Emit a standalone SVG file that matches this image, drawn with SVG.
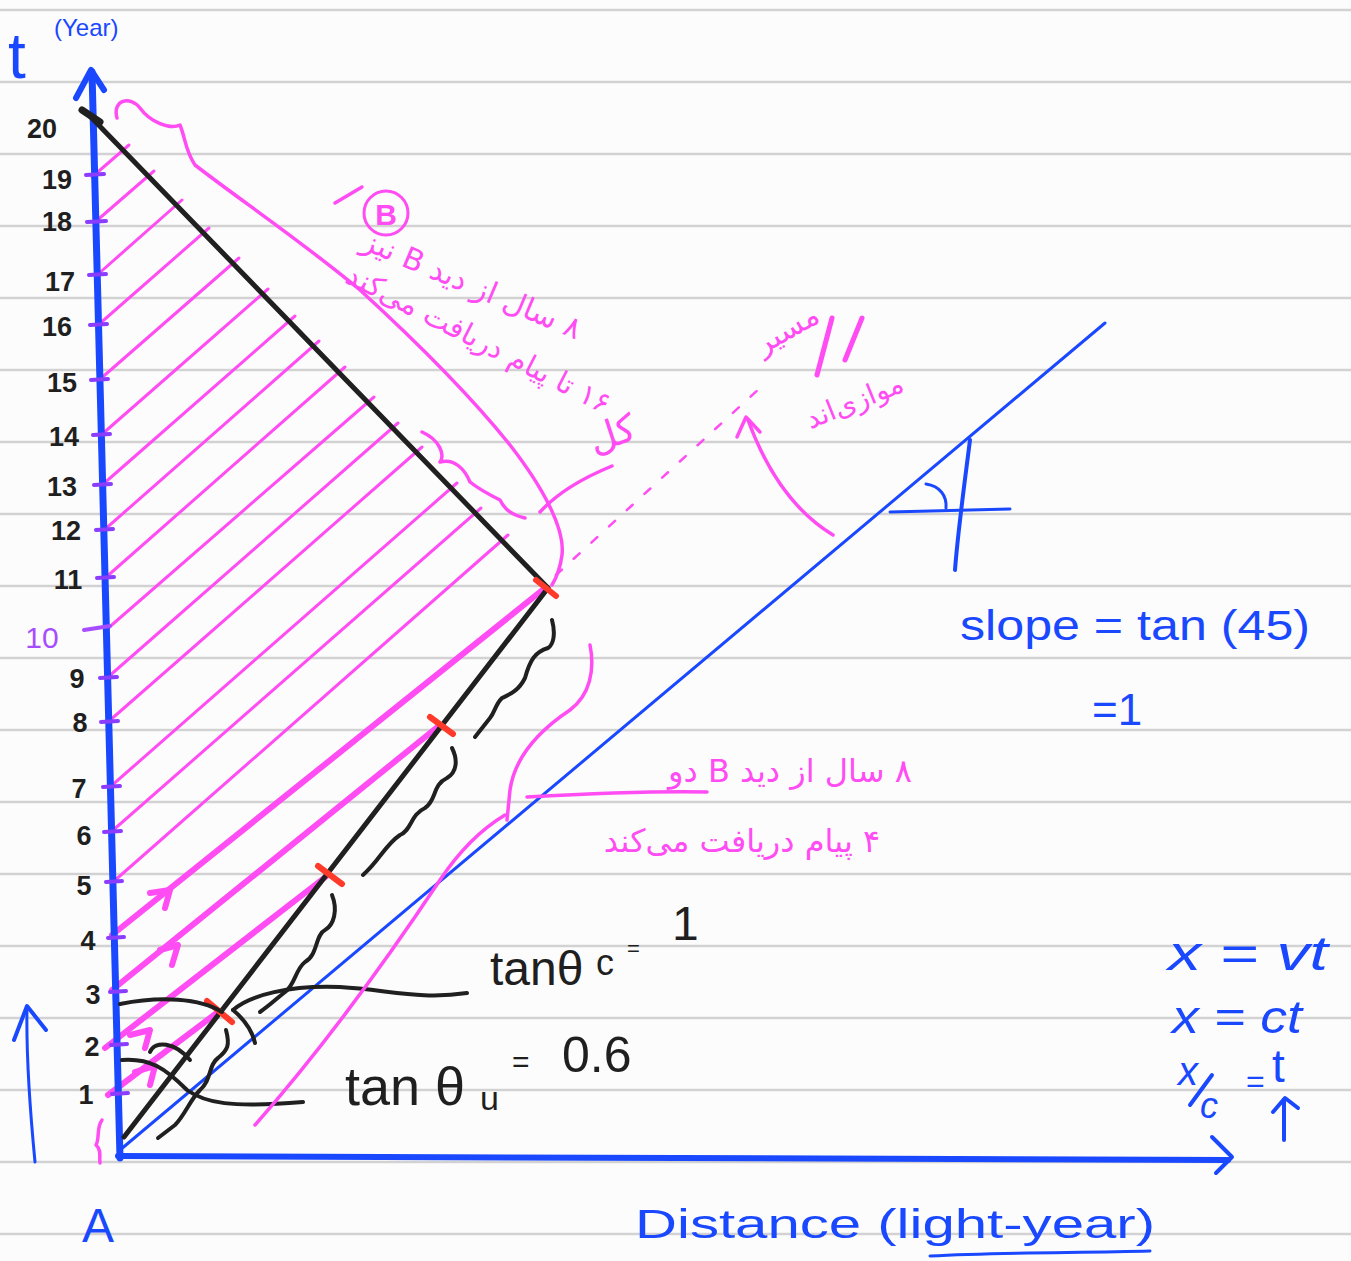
<svg xmlns="http://www.w3.org/2000/svg" width="1351" height="1261" viewBox="0 0 1351 1261">
<defs>
<style>
.rule{stroke:#d2d2d2;stroke-width:2.5}
.s{fill:none;stroke-linecap:round;stroke-linejoin:round}
.b{stroke:#1a48ff}
.p{stroke:#ff4cf3}
.k{stroke:#202020}
.r{stroke:#ff3a2a}
.tick{stroke:#8a3dff;stroke-width:4;stroke-linecap:round}
.num{font-family:"Liberation Sans",Arial,sans-serif;font-weight:bold;font-size:27px;fill:#1f1f1f;text-anchor:middle}
.bt{font-family:"Liberation Sans",Arial,sans-serif;fill:#1a48ff}
.kt{font-family:"Liberation Sans",Arial,sans-serif;fill:#1f1f1f}
.fa{font-family:"DejaVu Sans","Noto Sans",sans-serif;fill:#ff4cf3;text-anchor:middle;direction:rtl;unicode-bidi:embed}
</style>
</defs>
<rect width="1351" height="1261" fill="#fcfcfd"/>
<g id="paper">
<line class="rule" x1="0" y1="10" x2="1351" y2="10"/>
<line class="rule" x1="0" y1="82" x2="1351" y2="82"/>
<line class="rule" x1="0" y1="154" x2="1351" y2="154"/>
<line class="rule" x1="0" y1="226" x2="1351" y2="226"/>
<line class="rule" x1="0" y1="298" x2="1351" y2="298"/>
<line class="rule" x1="0" y1="370" x2="1351" y2="370"/>
<line class="rule" x1="0" y1="442" x2="1351" y2="442"/>
<line class="rule" x1="0" y1="514" x2="1351" y2="514"/>
<line class="rule" x1="0" y1="586" x2="1351" y2="586"/>
<line class="rule" x1="0" y1="658" x2="1351" y2="658"/>
<line class="rule" x1="0" y1="730" x2="1351" y2="730"/>
<line class="rule" x1="0" y1="802" x2="1351" y2="802"/>
<line class="rule" x1="0" y1="874" x2="1351" y2="874"/>
<line class="rule" x1="0" y1="946" x2="1351" y2="946"/>
<line class="rule" x1="0" y1="1018" x2="1351" y2="1018"/>
<line class="rule" x1="0" y1="1090" x2="1351" y2="1090"/>
<line class="rule" x1="0" y1="1162" x2="1351" y2="1162"/>
<line class="rule" x1="0" y1="1234" x2="1351" y2="1234"/>
</g>

<g id="connectors">
<g class="s p" stroke-width="3">
<line x1="92" y1="177" x2="129" y2="145"/>
<line x1="94" y1="223" x2="154" y2="171"/>
<line x1="96" y1="276" x2="182" y2="200"/>
<line x1="97" y1="326" x2="209" y2="228"/>
<line x1="98" y1="381" x2="239" y2="258"/>
<line x1="100" y1="436" x2="268" y2="289"/>
<line x1="101" y1="486" x2="295" y2="316"/>
<line x1="103" y1="531" x2="319" y2="341"/>
<line x1="104" y1="579" x2="345" y2="367"/>
<line x1="106" y1="630" x2="374" y2="397"/>
<line x1="107" y1="678" x2="398" y2="423"/>
<line x1="108" y1="722" x2="422" y2="447"/>
<line x1="110" y1="787" x2="457" y2="483"/>
<line x1="111" y1="832" x2="481" y2="508"/>
<line x1="113" y1="882" x2="508" y2="535"/>
</g>
<g class="s p" stroke-width="6">
<line x1="112" y1="935" x2="545" y2="588"/>
<line x1="112" y1="990" x2="440" y2="725"/>
<line x1="105" y1="1048" x2="328" y2="875"/>
<line x1="108" y1="1095" x2="218" y2="1012"/>
<polyline points="150,893 170,890 165,908"/>
<polyline points="160,950 178,945 172,965"/>
<polyline points="130,1035 150,1030 145,1048"/>
<polyline points="135,1072 155,1066 150,1085"/>
</g>
<g id="axes" class="s b">
<line x1="92" y1="72" x2="120" y2="1158" stroke-width="7"/>
<polyline points="76,98 91,70 104,90" stroke-width="6"/>
<line x1="118" y1="1156" x2="1228" y2="1160" stroke-width="6"/>
<polyline points="1212,1137 1232,1157 1216,1173" stroke-width="4"/>
<line x1="120" y1="1150" x2="1105" y2="323" stroke-width="3"/>
<path d="M970,440 C 965,480 958,530 955,570" stroke-width="4"/>
<line x1="890" y1="512" x2="1010" y2="509" stroke-width="3"/>
<path d="M926,484 C 940,486 947,496 946,508" stroke-width="3"/>
<path d="M35,1162 C 30,1110 26,1060 27,1008" stroke-width="3"/>
<polyline points="14,1040 27,1006 46,1030" stroke-width="4"/>
<line x1="1284" y1="1140" x2="1284" y2="1100" stroke-width="4"/>
<polyline points="1273,1112 1285,1098 1298,1108" stroke-width="4"/>
</g>
<g class="s k" stroke-width="5">
<line x1="86" y1="112" x2="548" y2="588"/>
<line x1="548" y1="588" x2="124" y2="1137"/>
<line x1="82" y1="110" x2="100" y2="122" stroke-width="7"/>
</g>
<g>
<line class="tick" x1="86" y1="175" x2="104" y2="174"/>
<line class="tick" x1="87" y1="222" x2="106" y2="221"/>
<line class="tick" x1="89" y1="275" x2="106" y2="274"/>
<line class="tick" x1="90" y1="325" x2="107" y2="324"/>
<line class="tick" x1="91" y1="380" x2="108" y2="379"/>
<line class="tick" x1="93" y1="435" x2="110" y2="434"/>
<line class="tick" x1="94" y1="485" x2="111" y2="484"/>
<line class="tick" x1="96" y1="530" x2="113" y2="529"/>
<line class="tick" x1="97" y1="578" x2="114" y2="577"/>
<line x1="84" y1="630" x2="110" y2="626" stroke="#a84cff" stroke-width="4" stroke-linecap="round"/>
<line class="tick" x1="100" y1="678" x2="117" y2="677"/>
<line class="tick" x1="101" y1="722" x2="118" y2="721"/>
<line class="tick" x1="103" y1="787" x2="120" y2="786"/>
<line class="tick" x1="104" y1="832" x2="121" y2="831"/>
<line class="tick" x1="106" y1="882" x2="122" y2="881"/>
<line class="tick" x1="108" y1="938" x2="124" y2="937"/>
<line class="tick" x1="110" y1="992" x2="126" y2="991"/>
<line class="tick" x1="111" y1="1045" x2="127" y2="1044"/>
<line class="tick" x1="112" y1="1094" x2="128" y2="1093"/>
</g>
<g class="s r" stroke-width="6">
<line x1="536" y1="580" x2="556" y2="596"/>
<line x1="430" y1="717" x2="453" y2="734"/>
<line x1="318" y1="866" x2="342" y2="884"/>
<line x1="207" y1="1001" x2="232" y2="1022"/>
</g>
<g class="s k" stroke-width="4">
<path d="M552,620 C 556,635 553,645 548,648 C 535,652 530,660 525,678 C 518,692 508,695 502,698 C 495,705 495,712 490,718 L 475,737"/>
<path d="M452,748 C 458,760 457,772 447,778 C 432,785 437,800 425,808 C 410,815 412,830 400,835 C 385,845 380,860 363,875"/>
<path d="M332,895 C 338,910 334,925 325,930 C 315,935 318,955 305,962 C 295,970 295,985 285,992 C 275,1000 270,1005 260,1012"/>
<path d="M226,1030 C 230,1045 228,1050 218,1058 C 208,1065 212,1080 200,1090 C 190,1100 185,1115 175,1125 L 158,1138"/>
<path d="M120,1004 C 160,996 200,998 222,1012"/>
<path d="M233,1010 C 250,995 290,985 340,987 C 390,990 420,1000 467,993"/>
<path d="M233,1010 C 245,1020 252,1030 255,1043"/>
<path d="M122,1060 C 150,1058 165,1068 187,1090 C 205,1103 230,1108 303,1102"/>
<path d="M150,1052 C 155,1040 175,1042 190,1060"/>
</g>
<g class="s p" stroke-width="3.5">
<path d="M117,118 C 112,100 130,95 140,108 C 150,122 170,130 180,125 C 186,140 185,150 195,165 C 240,200 300,240 360,290 C 420,345 470,395 510,445 C 545,490 565,530 562,555 C 560,570 555,580 552,585"/>
<path d="M422,432 C 440,440 445,455 440,462 C 455,458 465,470 470,482 C 480,490 490,495 500,500 C 505,510 512,515 525,518"/>
<path d="M612,466 C 590,475 560,490 540,512"/>
<path d="M590,645 C 595,670 590,695 570,710 C 540,730 515,755 510,790 L 507,820"/>
<path d="M505,815 C 480,830 460,850 440,880 C 400,940 330,1040 255,1125"/>
<path d="M527,797 C 600,793 660,791 707,792"/>
<path d="M833,535 C 800,515 770,480 748,420"/>
<polyline points="737,437 746,417 760,432"/>
<path d="M102,1120 C 96,1128 100,1138 96,1145 C 102,1150 99,1158 100,1163"/>
<line x1="556" y1="575" x2="760" y2="388" stroke-width="2.5" stroke-dasharray="8 16"/>
<path d="M335,203 L 362,187"/>
<circle cx="386" cy="213" r="22" stroke-width="3"/>
<line x1="817" y1="375" x2="832" y2="318" stroke-width="5"/>
<line x1="845" y1="360" x2="862" y2="318" stroke-width="5"/>
</g>
</g>

<g id="labels-axis">
<text class="bt" x="8" y="78" font-size="64">t</text>
<text class="bt" x="54" y="36" font-size="24">(Year)</text>
<text class="num" x="42" y="138">20</text>
<text class="num" x="57" y="189">19</text>
<text class="num" x="57" y="231">18</text>
<text class="num" x="60" y="291">17</text>
<text class="num" x="57" y="336">16</text>
<text class="num" x="62" y="392">15</text>
<text class="num" x="64" y="446">14</text>
<text class="num" x="62" y="496">13</text>
<text class="num" x="66" y="540">12</text>
<text class="num" x="68" y="589">11</text>
<text x="42" y="648" font-family="Liberation Sans,Arial,sans-serif" font-size="30" fill="#a84cff" text-anchor="middle">10</text>
<text class="num" x="77" y="688">9</text>
<text class="num" x="80" y="732">8</text>
<text class="num" x="79" y="798">7</text>
<text class="num" x="84" y="845">6</text>
<text class="num" x="84" y="895">5</text>
<text class="num" x="88" y="950">4</text>
<text class="num" x="93" y="1004">3</text>
<text class="num" x="92" y="1056">2</text>
<text class="num" x="86" y="1104">1</text>
<text class="bt" x="82" y="1242" font-size="48">A</text>
<text class="bt" x="635" y="1238" font-size="40" textLength="520" lengthAdjust="spacingAndGlyphs">Distance (light-year)</text>
<path class="s b" d="M930,1256 C 1000,1252 1080,1253 1150,1251" stroke-width="3"/>
</g>

<g id="labels-math">
<text class="bt" x="960" y="640" font-size="42" textLength="350" lengthAdjust="spacingAndGlyphs">slope = tan (45)</text>
<text class="bt" x="1092" y="725" font-size="44">=1</text>
<text class="bt" x="1168" y="970" font-size="48" font-style="italic" textLength="160" lengthAdjust="spacingAndGlyphs">x = vt</text>
<text class="bt" x="1172" y="1033" font-size="46" font-style="italic" textLength="130" lengthAdjust="spacingAndGlyphs">x = ct</text>
<text class="bt" x="1178" y="1085" font-size="40" font-style="italic">x</text>
<line class="s b" x1="1190" y1="1105" x2="1212" y2="1075" stroke-width="4"/>
<text class="bt" x="1200" y="1118" font-size="36" font-style="italic">c</text>
<text class="bt" x="1246" y="1092" font-size="32">=</text>
<text class="bt" x="1272" y="1082" font-size="46">t</text>
<text class="kt" x="490" y="985" font-size="48">tanθ</text>
<text class="kt" x="596" y="975" font-size="36">c</text>
<text class="kt" x="627" y="956" font-size="22">=</text>
<text class="kt" x="672" y="940" font-size="48">1</text>
<text class="kt" x="345" y="1105" font-size="54">tan θ</text>
<text class="kt" x="480" y="1110" font-size="34">u</text>
<text class="kt" x="512" y="1072" font-size="30">=</text>
<text class="kt" x="562" y="1072" font-size="50">0.6</text>
</g>

<g id="labels-fa">
<text x="386" y="225" font-family="Liberation Sans,Arial,sans-serif" font-size="30" font-weight="bold" fill="#ff4cf3" text-anchor="middle">B</text>
<text class="fa" x="468" y="294" font-size="30" transform="rotate(23 468 294)">۸ سال از دید B نیز</text>
<text class="fa" x="474" y="348" font-size="29" transform="rotate(27 474 348)">۱۶ تا پیام دریافت می‌کند</text>
<text class="fa" x="616" y="446" font-size="38" transform="rotate(-18 616 446)">کل</text>
<text class="fa" x="792" y="338" font-size="30" transform="rotate(-30 792 338)">مسیر</text>
<text class="fa" x="858" y="410" font-size="28" transform="rotate(-22 858 410)">موازی‌اند</text>
<text class="fa" x="790" y="782" font-size="32">۸ سال از دید B دو</text>
<text class="fa" x="742" y="852" font-size="32">۴ پیام دریافت می‌کند</text>
</g>
</svg>
